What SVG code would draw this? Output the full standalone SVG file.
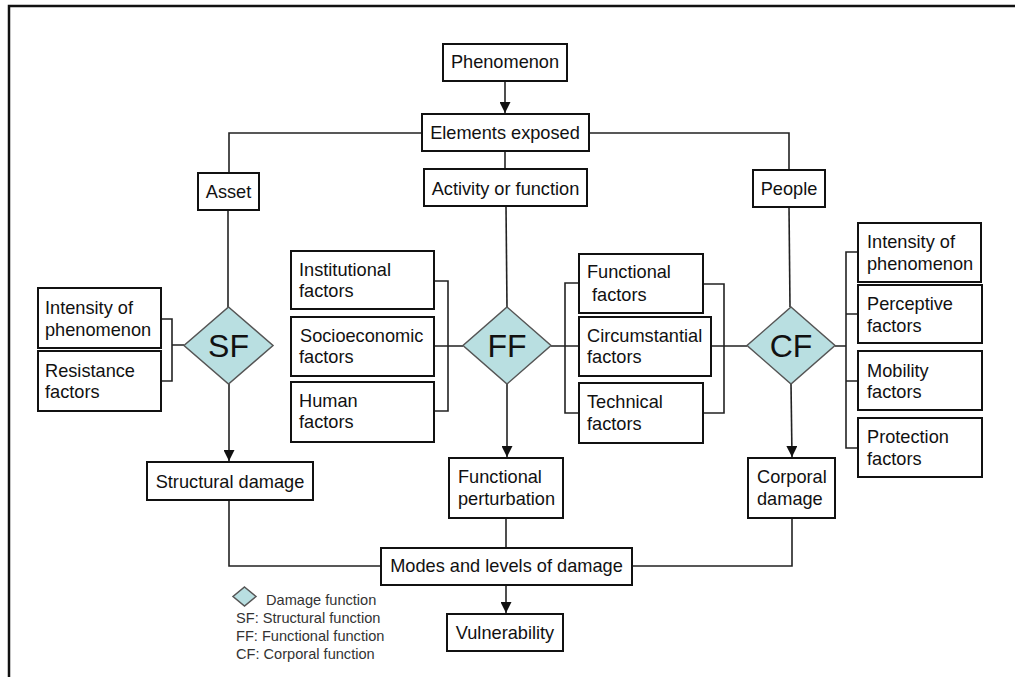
<svg xmlns="http://www.w3.org/2000/svg" width="1015" height="677" viewBox="0 0 1015 677">
<defs>
<style>
.box{fill:#fff;stroke:#111;stroke-width:2}
.t{font-family:"Liberation Sans",Arial,sans-serif;font-size:18.2px;fill:#111}
.c{text-anchor:middle}
.big{font-family:"Liberation Sans",Arial,sans-serif;font-size:32px;fill:#111;text-anchor:middle}
.dia{fill:#b9dfe1;stroke:#555;stroke-width:1.5}
.ln{fill:none;stroke:#222;stroke-width:1.6}
.lg{font-family:"Liberation Sans",Arial,sans-serif;font-size:14.6px;fill:#333}
</style>
<marker id="ah" viewBox="0 0 10 10" refX="10" refY="5" markerWidth="11" markerHeight="11" markerUnits="userSpaceOnUse" orient="auto">
<path d="M0,0 L10,5 L0,10 Z" fill="#111"/>
</marker>
</defs>
<rect width="1015" height="677" fill="#fff"/>
<path d="M9,677 V6 H1015" fill="none" stroke="#111" stroke-width="2.5"/>

<g id="connectors">
<line class="ln" x1="505" y1="81" x2="505" y2="113" marker-end="url(#ah)"/>
<path class="ln" d="M422,133 H229 V173"/>
<path class="ln" d="M589,133 H789 V170"/>
<line class="ln" x1="505" y1="151" x2="505" y2="169"/>
<line class="ln" x1="228" y1="210" x2="228" y2="307"/>
<line class="ln" x1="506" y1="206" x2="507" y2="307"/>
<line class="ln" x1="789" y1="207" x2="790" y2="307"/>
<path class="ln" d="M161,319 H172 V381 H161 M172,345 H184"/>
<path class="ln" d="M434,281 H448 V411 H434 M434,346 H463"/>
<path class="ln" d="M579,283 H565 V413 H579 M551,346 H579"/>
<path class="ln" d="M703,284 H724 V413 H703 M711,346 H747"/>
<path class="ln" d="M858,252 H846 V448 H858 M846,314 H858 M846,381 H858 M835,346 H846"/>
<line class="ln" x1="229" y1="384" x2="229" y2="461" marker-end="url(#ah)"/>
<line class="ln" x1="507" y1="384" x2="507" y2="457" marker-end="url(#ah)"/>
<line class="ln" x1="791" y1="384" x2="792" y2="457" marker-end="url(#ah)"/>
<path class="ln" d="M229,500 V566 H381"/>
<path class="ln" d="M792,518 V566 H632"/>
<line class="ln" x1="506" y1="518" x2="506" y2="548"/>
<line class="ln" x1="506" y1="585" x2="506" y2="613" marker-end="url(#ah)"/>
</g>

<g id="phenomenon"><rect class="box" x="443" y="44" width="124" height="37"/><text class="t c" x="505" y="68">Phenomenon</text></g>
<g id="elements-exposed"><rect class="box" x="422" y="114" width="167" height="37"/><text class="t c" x="505" y="139">Elements exposed</text></g>
<g id="asset"><rect class="box" x="198" y="173" width="61" height="37"/><text class="t c" x="228.5" y="198">Asset</text></g>
<g id="activity"><rect class="box" x="424" y="169" width="163" height="37"/><text class="t c" x="505.5" y="195">Activity or function</text></g>
<g id="people"><rect class="box" x="753" y="170" width="72" height="37"/><text class="t c" x="789" y="195">People</text></g>

<g id="sf"><polygon class="dia" points="228.5,307 273,345.5 228.5,384 184,345.5"/><text class="big" x="228.5" y="357">SF</text></g>
<g id="ff"><polygon class="dia" points="507,307 551,345.5 507,384 463,345.5"/><text class="big" x="507" y="357">FF</text></g>
<g id="cf"><polygon class="dia" points="791,307 835,345.5 791,384 747,345.5"/><text class="big" x="791" y="357">CF</text></g>

<g id="sf-intensity"><rect class="box" x="38" y="288" width="123" height="60"/><text class="t" x="45" y="314">Intensity of</text><text class="t" x="45" y="336">phenomenon</text></g>
<g id="sf-resistance"><rect class="box" x="38" y="351" width="123" height="60"/><text class="t" x="45" y="377">Resistance</text><text class="t" x="45" y="398">factors</text></g>

<g id="institutional"><rect class="box" x="291" y="251" width="143" height="58"/><text class="t" x="299" y="276">Institutional</text><text class="t" x="299" y="297">factors</text></g>
<g id="socioeconomic"><rect class="box" x="291" y="317" width="143" height="59"/><text class="t" x="300" y="342">Socioeconomic</text><text class="t" x="299" y="363">factors</text></g>
<g id="human"><rect class="box" x="291" y="382" width="143" height="60"/><text class="t" x="299" y="407">Human</text><text class="t" x="299" y="428">factors</text></g>

<g id="functional-factors"><rect class="box" x="579" y="254" width="124" height="59"/><text class="t" x="587" y="278">Functional</text><text class="t" x="592" y="301">factors</text></g>
<g id="circumstantial"><rect class="box" x="579" y="317" width="132" height="59"/><text class="t" x="587" y="342">Circumstantial</text><text class="t" x="587" y="363">factors</text></g>
<g id="technical"><rect class="box" x="579" y="383" width="124" height="60"/><text class="t" x="587" y="408">Technical</text><text class="t" x="587" y="430">factors</text></g>

<g id="cf-intensity"><rect class="box" x="858" y="223" width="123" height="59"/><text class="t" x="867" y="248">Intensity of</text><text class="t" x="867" y="270">phenomenon</text></g>
<g id="perceptive"><rect class="box" x="858" y="285" width="124" height="58"/><text class="t" x="867" y="310">Perceptive</text><text class="t" x="867" y="332">factors</text></g>
<g id="mobility"><rect class="box" x="858" y="351" width="124" height="59"/><text class="t" x="867" y="377">Mobility</text><text class="t" x="867" y="398">factors</text></g>
<g id="protection"><rect class="box" x="858" y="418" width="124" height="59"/><text class="t" x="867" y="443">Protection</text><text class="t" x="867" y="465">factors</text></g>

<g id="structural-damage"><rect class="box" x="147" y="462" width="166" height="38"/><text class="t c" x="230" y="488">Structural damage</text></g>
<g id="functional-perturbation"><rect class="box" x="449" y="458" width="114" height="60"/><text class="t" x="458" y="483">Functional</text><text class="t" x="458" y="505">perturbation</text></g>
<g id="corporal-damage"><rect class="box" x="748" y="458" width="87" height="60"/><text class="t" x="757" y="483">Corporal</text><text class="t" x="757" y="505">damage</text></g>

<g id="modes"><rect class="box" x="381" y="548" width="251" height="37"/><text class="t c" x="506.5" y="572">Modes and levels of damage</text></g>
<g id="vulnerability"><rect class="box" x="447" y="614" width="116" height="37"/><text class="t c" x="505" y="639">Vulnerability</text></g>

<g id="legend">
<polygon class="dia" points="244.5,587 256,596.5 244.5,606 233,596.5"/>
<text class="lg" x="266" y="605">Damage function</text>
<text class="lg" x="236" y="623">SF: Structural function</text>
<text class="lg" x="236" y="641">FF: Functional function</text>
<text class="lg" x="236" y="659">CF: Corporal function</text>
</g>
</svg>
